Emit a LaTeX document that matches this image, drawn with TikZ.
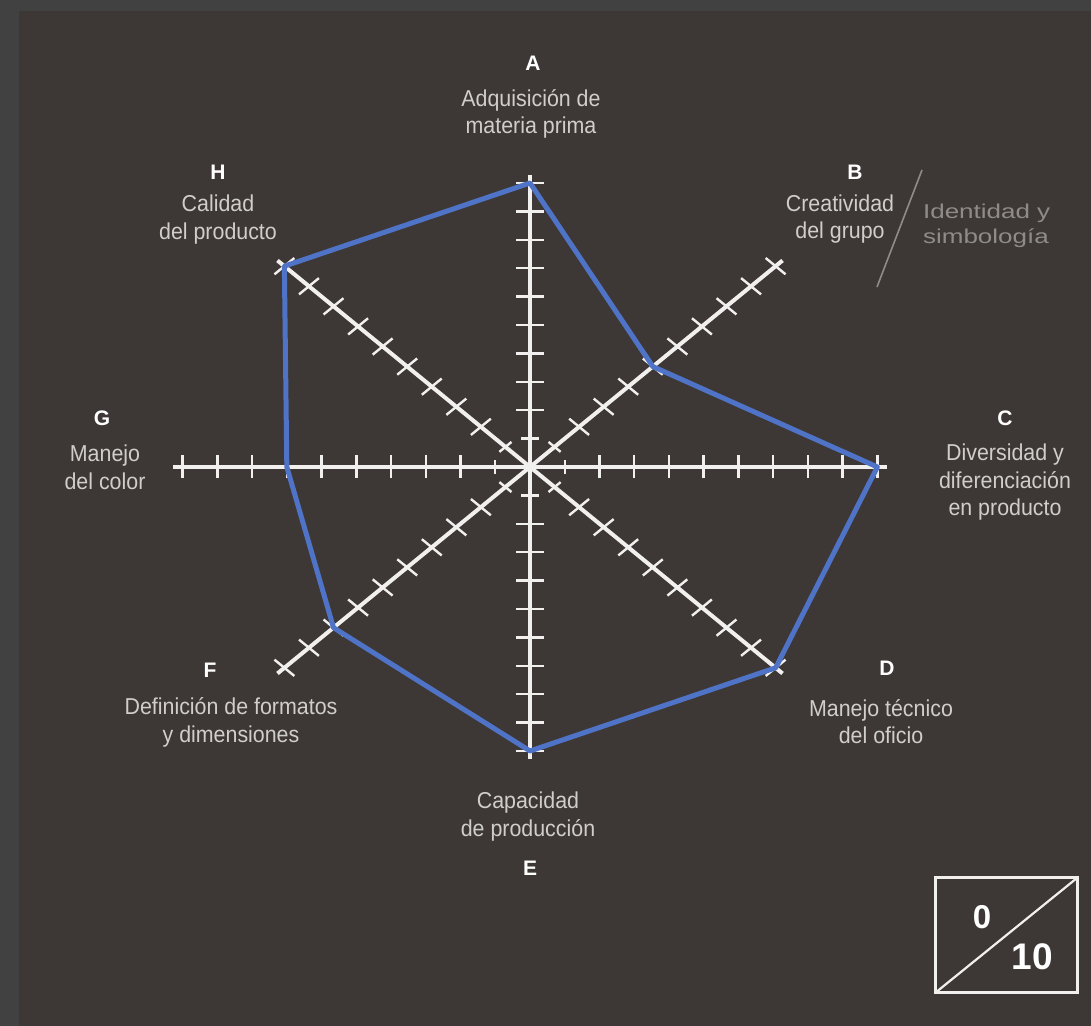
\documentclass[tikz,border=0pt]{standalone}
\usepackage{fontspec}
\setmainfont{Liberation Sans}
\newfontfamily\narrowfont[FakeStretch=0.93]{Liberation Sans}
\newfontfamily\wideface[FakeStretch=1.3]{Liberation Sans}
\definecolor{framegray}{HTML}{414141}
\definecolor{boardbg}{HTML}{3D3835}
\definecolor{axiswhite}{HTML}{F2F0EE}
\definecolor{labelgray}{HTML}{D0CECB}
\definecolor{notegray}{HTML}{8E8C8A}
\definecolor{scoreblue}{HTML}{4F73C6}

\begin{document}
\begin{tikzpicture}[x=0.5pt,y=0.5pt,
  axis/.style={axiswhite,line width=2pt},
  tick/.style={axiswhite,line width=1.2pt},
  score/.style={scoreblue,line width=2.5pt,line join=round},
  letter/.style={white,font=\fontsize{10.5}{12}\selectfont\bfseries},
  caption/.style={labelgray,align=center,font=\narrowfont\fontsize{11.5}{13.75}\selectfont},
  note/.style={notegray,align=left,anchor=west,font=\wideface\fontsize{10}{12.5}\selectfont},
  digit/.style={white,font=\fontsize{#1}{#1}\selectfont\bfseries}]
\useasboundingbox (0,0) rectangle (1091,1026);
\fill[framegray] (0,0) rectangle (1091,1026);
\fill[boardbg] (19,0) rectangle (1091,1015);

\begin{scope}[shift={(530,559)},xscale=1.223]
\foreach \a in {0,45,...,315}
  \draw[axis] (0,0) -- (\a:292);
\foreach \a in {0,45,...,315} {
  \draw[tick,rotate=\a] (28.4,-7) -- (28.4,7);
  \foreach \k in {2,...,10}
    \draw[tick,rotate=\a] (\k*28.4,-11.5) -- (\k*28.4,11.5);
}
\coordinate (sA) at (90:284);
\coordinate (sB) at (45:142);
\coordinate (sC) at (0:284);
\coordinate (sD) at (-45:284);
\coordinate (sE) at (-90:284);
\coordinate (sF) at (-135:227.2);
\coordinate (sG) at (180:198.8);
\coordinate (sH) at (135:284);
\draw[score] (sA) -- (sB) -- (sC) -- (sD) -- (sE) -- (sF) -- (sG) -- (sH) -- cycle;
\end{scope}

\node[letter] (letA) at (533,963) {A};
\node[caption] (capA) at (531,912) {Adquisición de\\materia prima};
\node[letter] (letB) at (855,854) {B};
\node[caption] (capB) at (840,807) {Creatividad\\del grupo};
\node[note] (noteB) at (916,800.5) {Identidad y\\simbología};
\draw[notegray,line width=0.8pt] (922,856) -- (877,739);
\node[letter] (letC) at (1005,608) {C};
\node[caption] (capC) at (1005,543.5) {Diversidad y\\diferenciación\\en producto};
\node[letter] (letD) at (887,358) {D};
\node[caption] (capD) at (881,304.5) {Manejo técnico\\del oficio};
\node[letter] (letE) at (530,158) {E};
\node[caption] (capE) at (528,209.5) {Capacidad\\de producción};
\node[letter] (letF) at (210,356) {F};
\node[caption] (capF) at (231,303.5) {Definición de formatos\\y dimensiones};
\node[letter] (letG) at (102,608) {G};
\node[caption] (capG) at (105,558.5) {Manejo\\del color};
\node[letter] (letH) at (218,854) {H};
\node[caption] (capH) at (218,806.5) {Calidad\\del producto};

\draw[axiswhite,line width=1.5pt] (935,33) rectangle (1077,148);
\draw[axiswhite,line width=1.1pt] (935,33) -- (1077,148);
\node[digit=16.5] (low) at (982,109) {0};
\node[digit=18.5] (high) at (1032,69) {10};
\end{tikzpicture}
\end{document}
